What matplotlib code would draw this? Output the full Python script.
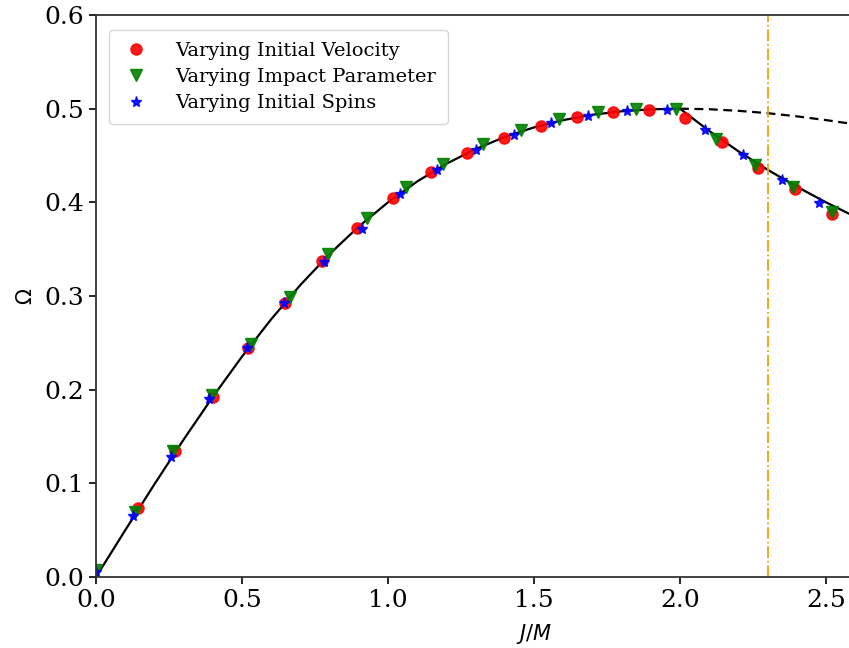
import numpy as np
import matplotlib
matplotlib.use('Agg')
from matplotlib import pyplot as plt

# theory curve
curve_x = [0.0, 0.1, 0.2, 0.3, 0.4, 0.5, 0.6, 0.7, 0.8, 0.9, 1.0, 1.1, 1.2, 1.3,
           1.4, 1.5, 1.6, 1.7, 1.8, 1.9, 2.0]
curve_y = [0.0, 0.0499, 0.0990, 0.1467, 0.1923, 0.2353, 0.2752, 0.3118, 0.3448, 0.3742,
           0.400, 0.4223, 0.4412, 0.4569, 0.4698, 0.480, 0.4878, 0.4935, 0.4972, 0.4993, 0.500]
# branch after J/M = 2
solid_x = [2.0, 2.1, 2.2, 2.3, 2.4, 2.5, 2.6]
solid_y = [0.500, 0.4762, 0.4545, 0.4348, 0.4167, 0.400, 0.3846]
dash_x = [2.0, 2.1, 2.2, 2.3, 2.4, 2.5, 2.6]
dash_y = [0.500, 0.4994, 0.4977, 0.4952, 0.4918, 0.4878, 0.4833]
vline_x = 2.3

# simulation points
vel_x = [0.144, 0.27, 0.40, 0.522, 0.648, 0.775, 0.893, 1.017, 1.147, 1.271, 1.397,
         1.524, 1.647, 1.77, 1.895, 2.017, 2.144, 2.267, 2.394, 2.52]
vel_y = [0.074, 0.134, 0.192, 0.245, 0.293, 0.337, 0.373, 0.405, 0.432, 0.453, 0.469,
         0.481, 0.491, 0.496, 0.499, 0.490, 0.464, 0.437, 0.414, 0.388]
imp_x = [0.0, 0.132, 0.265, 0.398, 0.53, 0.663, 0.795, 0.928, 1.062, 1.19, 1.325,
         1.455, 1.586, 1.72, 1.85, 1.985, 2.125, 2.257, 2.387, 2.52]
imp_y = [0.008, 0.069, 0.135, 0.194, 0.249, 0.299, 0.345, 0.383, 0.416, 0.441, 0.462,
         0.477, 0.489, 0.496, 0.500, 0.500, 0.468, 0.440, 0.416, 0.390]
spin_x = [0.0, 0.127, 0.257, 0.387, 0.516, 0.645, 0.78, 0.91, 1.041, 1.168, 1.30,
          1.43, 1.558, 1.685, 1.82, 1.955, 2.085, 2.216, 2.35, 2.476]
spin_y = [0.005, 0.065, 0.128, 0.190, 0.245, 0.292, 0.336, 0.371, 0.409, 0.434, 0.456,
          0.472, 0.485, 0.492, 0.497, 0.499, 0.477, 0.450, 0.424, 0.399]

plt.rcParams['font.family'] = 'DejaVu Serif'
plt.rcParams['mathtext.fontset'] = 'dejavusans'

fig = plt.figure(figsize=(8.49, 6.48), dpi=100)
ax = fig.add_axes([96 / 849, 71 / 648, 3.0 * 292 / 849, 562 / 648])

ax.plot(curve_x, curve_y, 'k-', lw=1.6)
ax.plot(solid_x, solid_y, 'k-', lw=1.6)
ax.plot(dash_x, dash_y, 'k--', lw=1.6, dashes=(4, 2.5))
ax.axvline(vline_x, color='#f0a30a', ls='-.', lw=1.3)

ax.plot(vel_x, vel_y, 'o', color='red', ms=8, alpha=0.9, label='Varying Initial Velocity')
ax.plot(imp_x, imp_y, 'v', color='green', ms=8, alpha=0.9, label='Varying Impact Parameter')
ax.plot(spin_x, spin_y, '*', color='blue', ms=8, alpha=0.9, label='Varying Initial Spins')

ax.set_xlim(0, 3.0)
ax.set_ylim(0, 0.6)
ax.set_xticks([0.0, 0.5, 1.0, 1.5, 2.0, 2.5])
ax.set_yticks([0.0, 0.1, 0.2, 0.3, 0.4, 0.5, 0.6])
ax.tick_params(labelsize=18, width=1.2, length=5)
for s in ax.spines.values():
    s.set_linewidth(1.3)
    s.set_color('#333333')

ax.set_xlabel('$J/M$', fontsize=15, labelpad=7)
ax.set_ylabel(r'$\Omega$', fontsize=15, labelpad=6)

ax.legend(loc='upper left', fontsize=14, handletextpad=1.2, borderpad=0.6,
          labelspacing=0.42, handlelength=1.6, bbox_to_anchor=(0.004, 0.99))

fig.savefig('out.png', dpi=100)
